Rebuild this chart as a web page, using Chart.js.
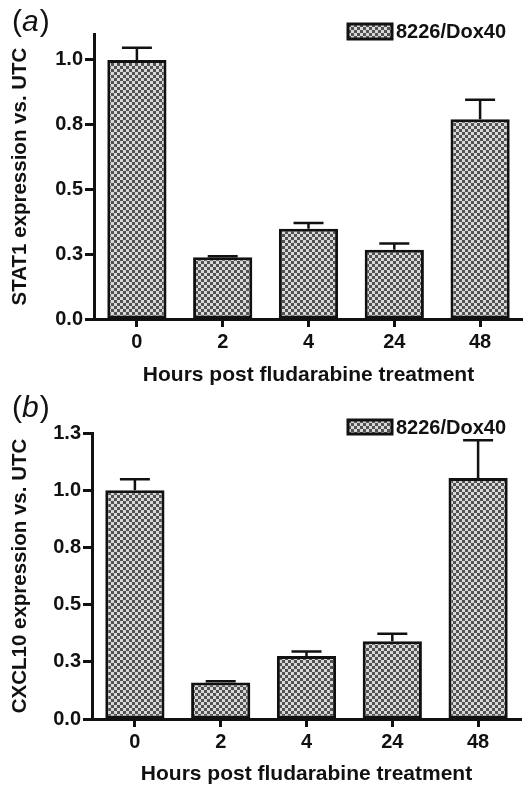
<!DOCTYPE html>
<html lang="en">
<head>
    <meta charset="UTF-8">
    <title>STAT1 / CXCL10 expression after fludarabine</title>
    <script src="https://cdn.jsdelivr.net/npm/chart.js"></script>
    <style>
        html, body { margin: 0; padding: 0; background: #fff; }
        #wrap { position: relative; width: 523px; height: 789px; }
        #wrap canvas { position: absolute; left: 0; }
        #chartA { top: 0; }
        #chartB { top: 390px; }
    </style>
</head>
<body>

<div id="wrap">
    <canvas id="chartA" width="523" height="390"></canvas>
    <canvas id="chartB" width="523" height="399"></canvas>
</div>

<script>
    const FONT = "'Liberation Sans', Arial, Helvetica, sans-serif";

    // x categories (hours)
    const hours = ['0', '2', '4', '24', '48'];
    const seriesName = '8226/Dox40';

    // panel (a) STAT1
    const stat1Mean = [1.0, 0.238, 0.348, 0.267, 0.771];
    const stat1Err  = [0.047, 0.004, 0.023, 0.024, 0.075];
    const stat1TickValues = [0, 0.25, 0.5, 0.75, 1.0];
    const stat1TickLabels = ['0.0', '0.3', '0.5', '0.8', '1.0'];

    // panel (b) CXCL10
    const cxclMean = [1.0, 0.16, 0.275, 0.34, 1.053];
    const cxclErr  = [0.048, 0.005, 0.02, 0.033, 0.165];
    const cxclTickValues = [0, 0.25, 0.5, 0.75, 1.0, 1.25];
    const cxclTickLabels = ['0.0', '0.3', '0.5', '0.8', '1.0', '1.3'];

    // grey checker fill like the printed bars
    function checkerPattern() {
        const c = document.createElement('canvas');
        c.width = 6; c.height = 6;
        const g = c.getContext('2d');
        g.fillStyle = '#d8d8d8';
        g.fillRect(0, 0, 6, 6);
        g.fillStyle = '#525252';
        g.fillRect(0, 0, 3, 3);
        g.fillRect(3, 3, 3, 3);
        return g.createPattern(c, 'repeat');
    }
    const fill = checkerPattern();

    // upper error bars only, drawn through the chart's own scales
    const errorBars = {
        id: 'errorBars',
        afterDatasetsDraw(chart, args, opts) {
            const ctx = chart.ctx;
            const xs = chart.scales.x, ys = chart.scales.y;
            const means = chart.data.datasets[0].data;
            ctx.save();
            ctx.strokeStyle = '#111';
            ctx.lineWidth = 2.5;
            means.forEach((m, i) => {
                const x = xs.getPixelForValue(i);
                const y0 = ys.getPixelForValue(m);
                const y1 = ys.getPixelForValue(m + opts.err[i]);
                ctx.beginPath();
                ctx.moveTo(x, y0);
                ctx.lineTo(x, y1);
                ctx.moveTo(x - 15, y1);
                ctx.lineTo(x + 15, y1);
                ctx.stroke();
            });
            ctx.restore();
        }
    };

    // panel letter and the one-entry legend above the plot
    const panelDeco = {
        id: 'panelDeco',
        afterDraw(chart, args, opts) {
            const ctx = chart.ctx;
            ctx.save();
            ctx.fillStyle = '#111';
            ctx.textBaseline = 'alphabetic';
            let x = 12;
            ctx.font = '30px ' + FONT;
            ctx.fillText('(', x, opts.letterY);
            x += ctx.measureText('(').width;
            ctx.font = 'italic 30px ' + FONT;
            ctx.fillText(opts.letter, x, opts.letterY);
            x += ctx.measureText(opts.letter).width + 1;
            ctx.font = '30px ' + FONT;
            ctx.fillText(')', x, opts.letterY);

            const b = opts.box;
            ctx.fillStyle = fill;
            ctx.fillRect(b.x, b.y, b.w, b.h);
            ctx.strokeStyle = '#111';
            ctx.lineWidth = 3;
            ctx.strokeRect(b.x, b.y, b.w, b.h);
            ctx.fillStyle = '#111';
            ctx.font = 'bold 20px ' + FONT;
            ctx.textBaseline = 'middle';
            ctx.fillText(chart.data.datasets[0].label, b.x + b.w + 4, b.y + b.h / 2 + 1);
            ctx.restore();
        }
    };

    function buildChart(id, means, errs, tickValues, tickLabels, yMax, yTitle, geo) {
        const ctx = document.getElementById(id).getContext('2d');
        return new Chart(ctx, {
            type: 'bar',
            data: {
                labels: hours,
                datasets: [{
                    label: seriesName,
                    data: means,
                    backgroundColor: fill,
                    borderColor: '#111',
                    borderWidth: 3,
                    borderSkipped: false,
                    categoryPercentage: 1.0,
                    barPercentage: 0.69
                }]
            },
            plugins: [errorBars, panelDeco],
            options: {
                responsive: false,
                animation: false,
                events: [],
                layout: { padding: { top: geo.top, right: geo.right, bottom: 0, left: 0 } },
                plugins: {
                    legend: { display: false },
                    tooltip: { enabled: false },
                    errorBars: { err: errs },
                    panelDeco: { letter: geo.letter, letterY: geo.letterY, box: geo.box }
                },
                scales: {
                    x: {
                        offset: true,
                        afterFit: s => { s.height = geo.xHeight; },
                        grid: {
                            offset: false,
                            drawOnChartArea: false,
                            tickLength: 8,
                            tickWidth: 3,
                            tickColor: '#111'
                        },
                        border: { color: '#111', width: 3 },
                        ticks: {
                            color: '#111',
                            padding: 3,
                            font: { family: FONT, size: 20, weight: 'bold' }
                        },
                        title: {
                            display: true,
                            text: 'Hours post fludarabine treatment',
                            color: '#111',
                            padding: { top: 0, bottom: 2 },
                            font: { family: FONT, size: 21, weight: 'bold' }
                        }
                    },
                    y: {
                        min: 0,
                        max: yMax,
                        afterFit: s => { s.width = geo.yWidth; },
                        afterBuildTicks: s => { s.ticks = tickValues.map(v => ({ value: v })); },
                        grid: {
                            drawOnChartArea: false,
                            tickLength: 9,
                            tickWidth: 3,
                            tickColor: '#111'
                        },
                        border: { color: '#111', width: 3 },
                        ticks: {
                            color: '#111',
                            padding: 2,
                            font: { family: FONT, size: 20, weight: 'bold' },
                            callback: v => tickLabels[tickValues.indexOf(v)]
                        },
                        title: {
                            display: true,
                            text: yTitle,
                            color: '#111',
                            padding: { top: 8, bottom: 0 },
                            font: { family: FONT, size: 20.5, weight: 'bold' }
                        }
                    }
                }
            }
        });
    }

    buildChart('chartA', stat1Mean, stat1Err, stat1TickValues, stat1TickLabels, 1.1,
        'STAT1 expression vs. UTC',
        { top: 34, right: 0, xHeight: 71, yWidth: 94, letter: 'a', letterY: 31,
          box: { x: 348, y: 24, w: 44, h: 15 } });

    buildChart('chartB', cxclMean, cxclErr, cxclTickValues, cxclTickLabels, 1.25,
        'CXCL10 expression vs. UTC',
        { top: 43, right: 2, xHeight: 70, yWidth: 92, letter: 'b', letterY: 27,
          box: { x: 348, y: 30, w: 44, h: 14 } });
</script>

</body>
</html>
